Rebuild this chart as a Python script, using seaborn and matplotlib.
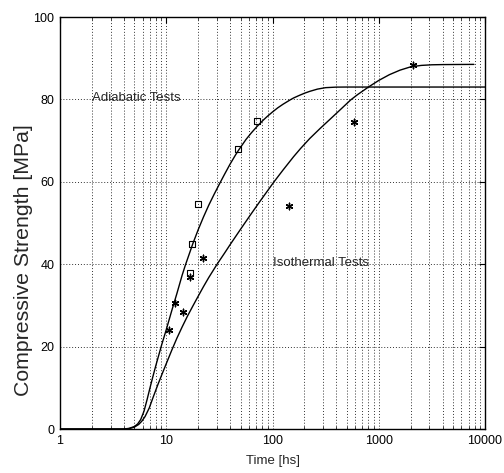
import numpy as np
import pandas as pd
import matplotlib
matplotlib.use("Agg")
import matplotlib.pyplot as plt
from matplotlib import font_manager
from matplotlib.ticker import LogLocator, FixedLocator, NullFormatter, FixedFormatter
import seaborn as sns

# ---- data ----
adiab_t = [1, 3.98, 4.47, 5.01, 5.37, 5.75, 6.17, 6.61, 7.08, 7.50, 7.94, 9.0, 10,
           11.2, 12.6, 14.1, 15.1, 17.8, 20.0, 22.4, 25.1, 28.2, 32.3, 35.5, 39.8,
           44.7, 48.0, 56.2, 63.1, 70.8, 81.7, 89.1, 100, 112, 126, 147, 158, 178,
           200, 224, 265, 316, 398, 501, 10000]
adiab_s = [0, 0, 0.15, 0.6, 1.2, 2.3, 4.3, 7.2, 10.3, 12.8, 15.2, 20.2, 24.1,
           28.5, 32.9, 37.3, 39.7, 45.0, 48.4, 51.45, 54.3, 56.95, 59.9, 61.9, 64.25,
           66.45, 67.7, 70.25, 71.85, 73.3, 74.95, 75.85, 76.95, 77.95, 78.85, 79.9, 80.35, 80.95,
           81.5, 81.95, 82.5, 82.85, 82.98, 83.0, 83.0]

iso_t = [1, 3.98, 4.47, 5.01, 5.50, 5.89, 6.31, 6.92, 7.50, 8.32, 9.12, 10, 11.3,
         12.6, 14.1, 15.8, 17.8, 20.0, 22.4, 25.1, 30.1, 35.5, 39.8, 50.1, 63.1,
         76.9, 103, 126, 158, 184, 224, 282, 352, 447, 543, 631, 805, 1000, 1259,
         1585, 1995, 2512, 3162, 3981, 7870]
iso_s = [0, 0, 0.1, 0.45, 1.1, 1.9, 3.0, 5.1, 7.6, 10.7, 13.3, 15.85, 19.2,
         22.05, 24.75, 27.35, 29.85, 32.25, 34.55, 36.75, 40.0, 42.75, 44.7, 48.5, 52.25,
         55.4, 59.95, 62.9, 66.1, 68.1, 70.5, 73.0, 75.3, 77.8, 79.85, 81.15, 83.05, 84.6, 86.0,
         87.1, 87.9, 88.25, 88.4, 88.45, 88.5]

adiab_pts_t = [16.6, 17.6, 20.0, 47.7, 72]
adiab_pts_s = [37.8, 44.9, 54.6, 68.0, 74.8]

iso_pts_t = [10.7, 12.2, 14.5, 16.6, 22.3, 144, 580, 2090]
iso_pts_s = [24.0, 30.6, 28.4, 37.0, 41.5, 54.1, 74.5, 88.3]

x_ticks = [1, 10, 100, 1000, 10000]
x_ticklabels = ["1", "10", "100", "1000", "10000"]
y_ticks = [0, 20, 40, 60, 80, 100]
y_ticklabels = ["0", "20", "40", "60", "80", "100"]

# ---- style ----
sns.set_style("white")
plt.rcParams["font.family"] = ["Liberation Sans", "DejaVu Sans"]
tick_fs = 9
lab_fs = 9.5
ann_fs = 9.5

fig = plt.figure(figsize=(5.04, 4.73), dpi=100)
ax = fig.add_axes([60 / 504, 1 - 429 / 473, 425 / 504, 412 / 473])

curves = pd.concat([
    pd.DataFrame({"t": adiab_t, "s": adiab_s, "series": "Adiabatic"}),
    pd.DataFrame({"t": iso_t, "s": iso_s, "series": "Isothermal"}),
])
sns.lineplot(data=curves, x="t", y="s", units="series", estimator=None, sort=False,
             color="black", lw=1.0, ax=ax, legend=False)

pts_a = pd.DataFrame({"t": adiab_pts_t, "s": adiab_pts_s})
pts_i = pd.DataFrame({"t": iso_pts_t, "s": iso_pts_s})
sns.scatterplot(data=pts_a, x="t", y="s", marker="s", s=20, facecolor="none",
                edgecolor="black", linewidth=0.8, ax=ax, zorder=4)
sns.scatterplot(data=pts_i, x="t", y="s", marker=(6, 2, 0), s=22, color="black",
                edgecolor="black", linewidth=1.0, ax=ax, zorder=4)

ax.set_xscale("log")
ax.set_xlim(1, 10000)
ax.set_ylim(0, 100)

ax.xaxis.set_major_locator(FixedLocator(x_ticks))
ax.xaxis.set_major_formatter(FixedFormatter(x_ticklabels))
ax.xaxis.set_minor_locator(LogLocator(base=10, subs=np.arange(2, 10), numticks=20))
ax.xaxis.set_minor_formatter(NullFormatter())
ax.yaxis.set_major_locator(FixedLocator(y_ticks))
ax.yaxis.set_major_formatter(FixedFormatter(y_ticklabels))

ax.grid(True, which="both", axis="x", color="0.2", linestyle=(0, (1, 2)), lw=0.7)
ax.grid(True, which="major", axis="y", color="0.2", linestyle=(0, (1, 2)), lw=0.7)

ax.tick_params(axis="both", which="major", direction="in", length=4, width=0.8,
               labelsize=tick_fs, colors="black", pad=4, top=True, right=True)
ax.tick_params(axis="x", which="minor", direction="in", length=2, width=0.6,
               top=True, bottom=True)

for sp in ax.spines.values():
    sp.set_visible(True)
    sp.set_color("black")
    sp.set_linewidth(1.0)

ax.set_xlabel("Time [hs]", fontsize=lab_fs)
ax.xaxis.set_label_coords(0.5, -0.062)
ax.set_ylabel("Compressive Strength [MPa]", fontsize=15.3)
ax.yaxis.set_label_coords(-0.0635, 0.41)

ax.text(2.0, 80.3, "Adiabatic Tests", fontsize=ann_fs, va="center", ha="left")
ax.text(102, 40.2, "Isothermal Tests", fontsize=ann_fs, va="center", ha="left")

fig.savefig("out.png", dpi=100)
